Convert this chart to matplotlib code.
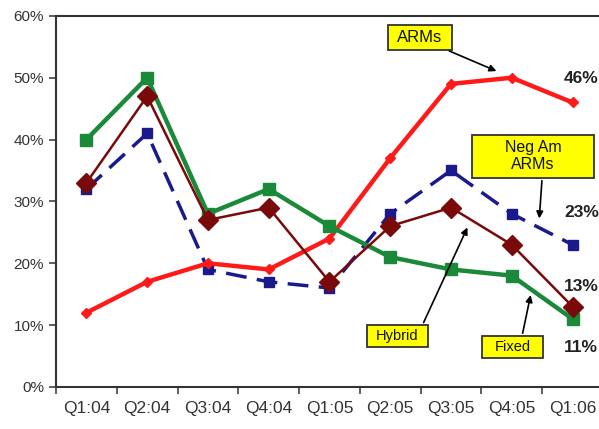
import matplotlib.pyplot as plt
from matplotlib.patches import Rectangle
from matplotlib.ticker import FuncFormatter

plt.rcParams['font.family'] = ['Liberation Sans', 'DejaVu Sans']

quarters = ["Q1:04", "Q2:04", "Q3:04", "Q4:04", "Q1:05", "Q2:05", "Q3:05", "Q4:05", "Q1:06"]
arms = [12, 17, 20, 19, 24, 37, 49, 50, 46]
neg_am = [32, 41, 19, 17, 16, 28, 35, 28, 23]
hybrid = [33, 47, 27, 29, 17, 26, 29, 23, 13]
fixed = [40, 50, 28, 32, 26, 21, 19, 18, 11]

fig = plt.figure(figsize=(5.99, 4.29), dpi=100)
ax = fig.add_axes([0.0935, 0.098, 0.913, 0.865])

x = range(len(quarters))
ax.plot(x, neg_am, color='#1a1a8c', lw=2.5, ls=(0, (6, 3)), marker='s', ms=7, zorder=2)
ax.plot(x, arms, color='#ff1a1a', lw=3.2, marker='D', ms=5, zorder=3)
ax.plot(x, fixed, color='#1a8a3a', lw=3.2, marker='s', ms=9, zorder=4)
ax.plot(x, hybrid, color='#7a0a0a', lw=1.8, marker='D', ms=10, zorder=5)

ax.set_xlim(-0.5, 8.5)
ax.set_ylim(0, 60)
ax.set_xticks([i - 0.5 for i in range(10)])
ax.set_xticklabels([])
ax.set_xticks(list(x), minor=True)
ax.set_xticklabels(quarters, minor=True, fontsize=12.5, color='#333333')
ax.tick_params(axis='x', which='minor', length=0, pad=10)
ax.tick_params(axis='x', which='major', direction='out', length=5, width=1.2, color='#444444')
ax.set_yticks(range(0, 61, 10))
ax.yaxis.set_major_formatter(FuncFormatter(lambda v, p: f"{int(v)}%"))
ax.tick_params(axis='y', direction='out', length=5, width=1.2, color='#444444',
               labelsize=11, labelcolor='#333333')
for s in ['left', 'bottom', 'top']:
    ax.spines[s].set_linewidth(1.5)
    ax.spines[s].set_color('#333333')
ax.spines['right'].set_visible(False)

arrow = dict(arrowstyle='-|>', color='black', lw=1.2, mutation_scale=10)


def label_box(x0, x1, y0, y1, text, size, start, tip):
    ax.add_patch(Rectangle((x0, y0), x1 - x0, y1 - y0, fc='#ffff00', ec='#333333',
                           lw=1.3, zorder=6, clip_on=False))
    ax.text((x0 + x1) / 2, (y0 + y1) / 2, text, fontsize=size, ha='center', va='center',
            zorder=7, linespacing=1.15, color='#111111')
    ax.annotate("", xy=tip, xytext=start, arrowprops=arrow, zorder=7)


label_box(4.97, 6.01, 54.5, 58.6, "ARMs", 12, (5.93, 54.5), (6.79, 50.9))
label_box(6.34, 8.36, 33.8, 40.8, "Neg Am\nARMs", 11.5, (7.5, 33.8), (7.45, 26.8))
label_box(4.61, 5.63, 6.5, 10.0, "Hybrid", 10.5, (5.53, 10.0), (6.29, 26.2))
label_box(6.51, 7.52, 4.7, 8.25, "Fixed", 10.5, (7.17, 8.25), (7.32, 15.3))

for val, ypos in [("46%", 49.8), ("23%", 28.2), ("13%", 16.2), ("11%", 6.4)]:
    ax.text(7.86, ypos, val, fontsize=12.5, fontweight='bold', color='#222222', va='center')

fig.savefig("out.png", dpi=100)
